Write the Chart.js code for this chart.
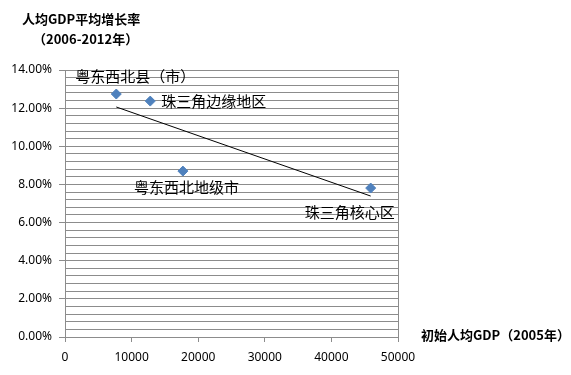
<!DOCTYPE html>
<html lang="zh-CN">
<head>
<meta charset="UTF-8">
<title>人均GDP平均增长率</title>
<script src="https://cdn.jsdelivr.net/npm/chart.js"></script>
<style>
  body { margin: 0; background: #fff; }
  #wrap { position: relative; width: 571px; height: 375px; }
  .t { position: absolute; font-family: "Noto Sans CJK SC", sans-serif; font-weight: bold; font-size: 13px; color: #000; white-space: nowrap; line-height: 1; }
</style>
</head>
<body>
<div id="wrap">
  <canvas id="grafico" width="571" height="375"></canvas>
  <div class="t" style="left:22px; top:12px;">人均GDP平均增长率</div>
  <div class="t" style="left:33px; top:32px;">（2006-2012年）</div>
  <div class="t" style="left:421px; top:328px;">初始人均GDP（2005年）</div>
</div>
<script>
  // regioes e valores
  var regioes = ['粤东西北县（市）', '珠三角边缘地区', '粤东西北地级市', '珠三角核心区']
  var gdpInicial = [7700, 12800, 17700, 45900]
  var crescimento = [12.74, 12.37, 8.70, 7.81]
  // linha de tendencia (pontos extremos)
  var tendX = [7700, 45900]
  var tendY = [12.06, 7.39]

  // posicao dos rotulos em relacao ao ponto
  var offsets = [[-41, -18, 'left'], [11, 0, 'left'], [-49, 16, 'left'], [-66, 24, 'left']]

  const rotulos = {
    id: 'rotulos',
    afterDatasetsDraw(chart) {
      const c = chart.ctx
      const meta = chart.getDatasetMeta(0)
      c.save()
      c.font = '15px "Noto Sans CJK SC"'
      c.fillStyle = '#000'
      c.textBaseline = 'middle'
      meta.data.forEach(function (p, i) {
        c.textAlign = offsets[i][2]
        c.fillText(regioes[i], p.x + offsets[i][0], p.y + offsets[i][1])
      })
      c.restore()
    }
  }

  const ctx = document.getElementById('grafico')
  new Chart(ctx, {
    type: 'scatter',
    data: {
      datasets: [{
        label: 'regioes',
        data: gdpInicial.map(function (x, i) { return { x: x, y: crescimento[i] } }),
        pointStyle: 'rectRot',
        pointRadius: 5,
        backgroundColor: '#4f81bd',
        borderColor: '#4f81bd'
      }, {
        label: 'tendencia',
        type: 'line',
        data: tendX.map(function (x, i) { return { x: x, y: tendY[i] } }),
        borderColor: '#000',
        borderWidth: 1,
        pointRadius: 0,
        fill: false
      }]
    },
    options: {
      responsive: false,
      animation: false,
      layout: { padding: { left: 0, right: 173, top: 70, bottom: 0 } },
      plugins: { legend: { display: false }, tooltip: { enabled: false } },
      scales: {
        x: {
          type: 'linear',
          min: 0, max: 50000,
          afterFit: function (s) { s.height = 38 },
          ticks: {
            stepSize: 10000, padding: 8, color: '#000',
            font: { family: 'Noto Sans', size: 12 },
            callback: function (v) { return String(v) }
          },
          grid: {
            color: function (c) { return c.tick && c.tick.value === 50000 ? '#8c8c8c' : 'rgba(0,0,0,0)' },
            tickColor: '#8c8c8c',
            tickLength: 5
          },
          border: { color: '#8c8c8c' }
        },
        y: {
          min: 0, max: 14,
          afterFit: function (s) { s.width = 65 },
          ticks: {
            stepSize: 0.4,
            autoSkip: false,
            padding: 7,
            color: '#000',
            font: { family: 'Noto Sans', size: 12 },
            callback: function (v) {
              var r = Math.round(v * 10)
              return r % 20 === 0 ? (r / 10).toFixed(2) + '%' : ''
            }
          },
          grid: {
            color: '#8c8c8c',
            tickColor: function (c) {
              return c.tick && Math.round(c.tick.value * 10) % 20 === 0 ? '#8c8c8c' : 'rgba(0,0,0,0)'
            },
            tickLength: 6
          },
          border: { color: '#8c8c8c' }
        }
      }
    },
    plugins: [rotulos]
  })
</script>
</body>
</html>
